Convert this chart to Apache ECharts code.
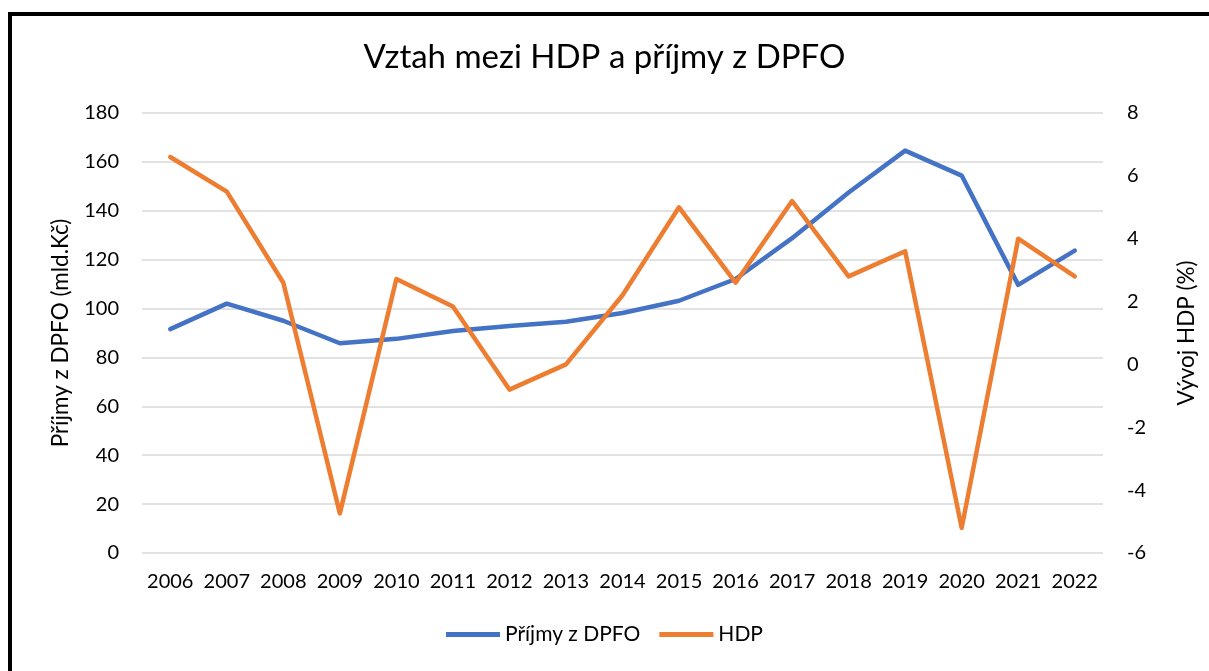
<!DOCTYPE html>
<html>
<head>
<meta charset="utf-8">
<script src="https://cdn.jsdelivr.net/npm/echarts@6/dist/echarts.min.js"></script>
<style>
  html, body { margin: 0; padding: 0; background: #fff; overflow: hidden; }
  #chart { width: 1209px; height: 671px; }
  #frame {
    position: absolute; left: 8px; top: 12px; width: 1300px; height: 800px;
    border: 4px solid #000; box-sizing: border-box; pointer-events: none;
  }
</style>
</head>
<body>
<div id="chart"></div>
<div id="frame"></div>
<script>
// data
const years = ['2006', '2007', '2008', '2009', '2010', '2011', '2012', '2013', '2014',
               '2015', '2016', '2017', '2018', '2019', '2020', '2021', '2022'];
const prijmyDPFO = [91.6, 102, 95, 85.8, 87.6, 90.8, 92.9, 94.6, 98.2,
                    103.2, 112.1, 128.8, 147.5, 164.6, 154.4, 109.7, 123.7];
const hdp = [6.6, 5.5, 2.6, -4.74, 2.72, 1.84, -0.8, 0.0, 2.2,
             5.0, 2.6, 5.2, 2.8, 3.6, -5.2, 4.0, 2.8];

const font = 'Lato, "Open Sans", sans-serif';
const txt = '#000';

let myChart = echarts.init(document.getElementById('chart'));
myChart.setOption({
    title: {
        text: 'Vztah mezi HDP a příjmy z DPFO',
        left: 'center',
        top: 36,
        textStyle: { fontFamily: font, fontSize: 33, fontWeight: 'normal', color: txt }
    },
    legend: {
        bottom: 21,
        left: 'center',
        icon: 'rect',
        itemWidth: 54,
        itemHeight: 5,
        itemGap: 19,
        textStyle: { fontFamily: font, fontSize: 21, color: txt }
    },
    grid: { left: 142, right: 106, top: 113, bottom: 118 },
    xAxis: {
        type: 'category',
        data: years,
        axisLine: { show: false },
        axisTick: { show: false },
        axisLabel: { margin: 19, fontFamily: font, fontSize: 20, color: txt, interval: 0 }
    },
    yAxis: [{
        type: 'value',
        min: 0, max: 180, interval: 20,
        name: 'Příjmy z DPFO (mld.Kč)',
        nameLocation: 'middle',
        nameRotate: 90,
        nameGap: 70,
        nameTextStyle: { fontFamily: font, fontSize: 22.5, color: txt },
        axisLabel: { margin: 23, fontFamily: font, fontSize: 20, color: txt },
        splitLine: { lineStyle: { color: '#d9d9d9', width: 1.5 } }
    }, {
        type: 'value',
        min: -6, max: 8, interval: 2,
        name: 'Vývoj HDP (%)',
        nameLocation: 'middle',
        nameRotate: 90,
        nameGap: 72,
        nameTextStyle: { fontFamily: font, fontSize: 22.5, color: txt },
        axisLabel: { margin: 24, fontFamily: font, fontSize: 20, color: txt },
        splitLine: { show: false }
    }],
    series: [{
        name: 'Příjmy z DPFO',
        type: 'line',
        yAxisIndex: 0,
        data: prijmyDPFO,
        symbol: 'none',
        color: '#4472C4',
        lineStyle: { width: 4.5, cap: 'round', join: 'round' }
    }, {
        name: 'HDP',
        type: 'line',
        yAxisIndex: 1,
        data: hdp,
        symbol: 'none',
        color: '#ED7D31',
        lineStyle: { width: 4.5, cap: 'round', join: 'round' }
    }],
    animation: false
});
</script>
</body>
</html>
